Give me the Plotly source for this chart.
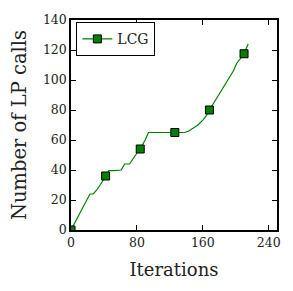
import plotly.graph_objects as go

# Line trace (Number of LP calls vs iterations)
iterations = [0, 6, 12, 18, 23, 27, 31, 36, 42, 46, 52, 58, 61, 65, 71, 76, 80, 84, 87, 90, 94,
              100, 110, 120, 126, 132, 138, 143, 148, 154, 160, 164, 168, 172, 175, 179, 183,
              188, 193, 197, 201, 205, 210, 215]
lp_calls = [0, 6, 12, 18.5, 24, 24, 26.5, 30.5, 36, 39.6, 39.6, 39.6, 40, 44, 44, 48, 51, 54, 57, 60, 65,
            65, 65, 65, 65, 65, 65, 66, 67.7, 70, 73.3, 76, 80, 83.5, 86.7, 90, 93.8,
            97.5, 101.8, 106, 111, 114, 117.5, 124]

# Marker positions (every 42 iterations)
marker_iterations = [0, 42, 84, 126, 168, 210]
marker_lp_calls = [0, 36, 54, 65, 80, 117.5]

x_ticks = [0, 80, 160, 240]
y_ticks = [0, 20, 40, 60, 80, 100, 120, 140]

green = "rgb(0,128,0)"
font_family = "DejaVu Serif"
text_color = "#222"

fig = go.Figure()
fig.add_trace(go.Scatter(x=iterations, y=lp_calls, mode="lines",
                         line=dict(color=green, width=1.2), showlegend=False, hoverinfo="skip"))
fig.add_trace(go.Scatter(x=marker_iterations, y=marker_lp_calls, mode="markers",
                         marker=dict(symbol="square", size=8, color=green,
                                     line=dict(color="black", width=1)),
                         showlegend=False))
fig.add_trace(go.Scatter(x=[None], y=[None], mode="lines+markers", name="LCG",
                         line=dict(color=green, width=1.2),
                         marker=dict(symbol="square", size=8, color=green,
                                     line=dict(color="black", width=1))))

axis_common = dict(showgrid=False, zeroline=False, showline=True, linecolor="black",
                   linewidth=1.5, mirror="ticks", ticks="inside", ticklen=5,
                   tickcolor="black", tickwidth=1.2, automargin=False,
                   tickfont=dict(family=font_family, size=12.5, color=text_color))

# The page body has an 8px default margin, so the figure is sized to fit after it.
fig.update_layout(
    width=285, height=283,
    margin=dict(l=63, r=16, t=12, b=61),
    paper_bgcolor="white", plot_bgcolor="white",
    xaxis=dict(range=[0, 250], tickvals=x_ticks, **axis_common,
               title=dict(text="Iterations", font=dict(family=font_family, size=18, color=text_color))),
    yaxis=dict(range=[0, 140], tickvals=y_ticks, **axis_common,
               title=dict(text="Number of LP calls", font=dict(family=font_family, size=19.5, color=text_color))),
    legend=dict(x=0.025, y=0.99, xanchor="left", yanchor="top",
                bordercolor="black", borderwidth=1.2, bgcolor="white",
                font=dict(family=font_family, size=14, color=text_color)),
    showlegend=True,
)

fig.write_html("out.html")
